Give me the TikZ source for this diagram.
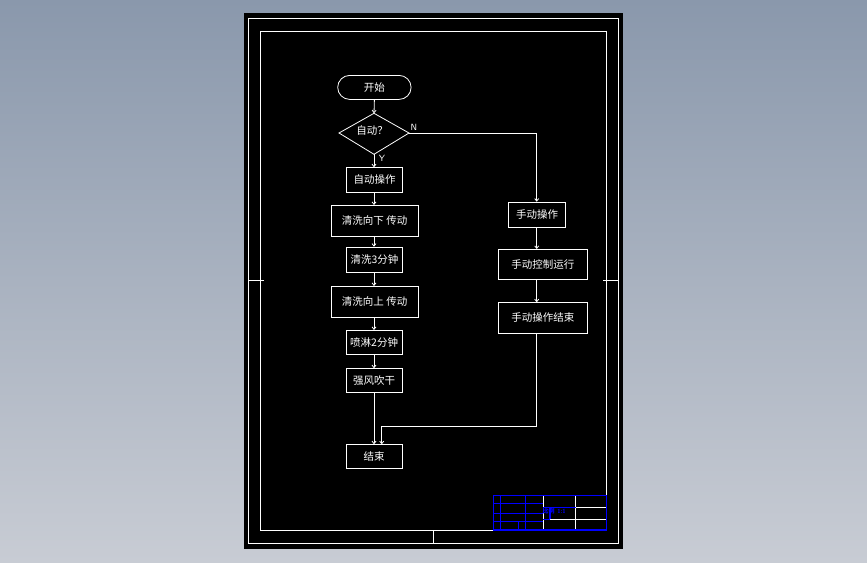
\documentclass[tikz,border=0pt]{standalone}
\usepackage{fontspec}
\newfontfamily\cjk{Noto Sans CJK SC}
\usetikzlibrary{arrows.meta}
\begin{document}
\begin{tikzpicture}[x=1pt,y=-1pt,
  wl/.style={draw=white,line width=0.8pt},
  bl/.style={draw=blue,line width=1.1pt},
  box/.style={draw=white,line width=0.8pt,fill=black,text=white,font=\cjk\fontsize{10.5}{12}\selectfont,inner sep=0pt,anchor=north west},
  arr/.style={draw=white,line width=0.8pt,-{Straight Barb[length=2.5pt,width=4pt]}},
  lbl/.style={text=white,font=\sffamily\fontsize{9}{10}\selectfont,inner sep=0pt},
  tb/.style={text=blue,font=\cjk\bfseries\fontsize{6}{6}\selectfont,inner sep=0pt}]
\useasboundingbox (0,0) rectangle (867,562);
\shade[top color={rgb,255:red,138;green,152;blue,172},bottom color={rgb,255:red,200;green,204;blue,212}] (0,0) rectangle (867,562);
\fill[black] (244,13) rectangle (623,549);
% frames
\draw[wl] (248,18) rectangle (618,543);
\draw[wl] (260,31) rectangle (606,530);
\draw[wl] (248,280) -- (264,280);
\draw[wl] (603,280) -- (618,280);
\draw[wl] (433,530) -- (433,543);
% title block
\draw[wl] (543.3,495.7) -- (543.3,530);
\draw[wl] (575.7,495.7) -- (575.7,530);
\draw[wl] (575.7,507.3) -- (606.7,507.3);
\draw[wl] (550,519.3) -- (606.7,519.3);
\draw[bl] (493.3,495.7) rectangle (606.7,530);
\draw[bl] (500.7,495.7) -- (500.7,530);
\draw[bl] (525.7,495.7) -- (525.7,530);
\draw[bl] (518.3,521.7) -- (518.3,530);
\draw[bl] (493.3,503.3) -- (543.3,503.3);
\draw[bl] (493.3,513.3) -- (543.3,513.3);
\draw[bl] (493.3,521.7) -- (543.3,521.7);
\draw[bl] (543.3,507.3) -- (575.7,507.3);
\draw[bl] (550,507.3) -- (550,519.3);
\draw[bl] (543.3,519.3) -- (550,519.3);
\node[tb] (tbl) at (548.5,511.5) {比例};
\node[tb,font=\sffamily\bfseries\fontsize{6}{6}\selectfont] (scale) at (561.5,511.5) {1:1};
% flowchart
\node[box,rounded corners=12pt,minimum width=73.4pt,minimum height=24pt] (start) at (337.3,75) {开始};
\coordinate (dtop) at (374,113.3);
\coordinate (dright) at (409,133);
\coordinate (dbot) at (374,154.3);
\coordinate (dleft) at (339,133);
\draw[wl] (dtop) -- (dright) -- (dbot) -- (dleft) -- cycle;
\node[text=white,font=\cjk\fontsize{10.5}{12}\selectfont,inner sep=0pt] (dec) at (372,131) {自动？};
\node[lbl] (nlbl) at (414,127) {N};
\node[lbl] (ylbl) at (382,158) {Y};
\node[box,minimum width=56.3pt,minimum height=24.4pt] (a1) at (346,167.3) {自动操作};
\node[box,minimum width=87pt,minimum height=30.7pt] (a2) at (330.7,205) {清洗向下 传动};
\node[box,minimum width=56.3pt,minimum height=25.6pt] (a3) at (346,246.7) {清洗3分钟};
\node[box,minimum width=87pt,minimum height=30.7pt] (a4) at (330.7,286) {清洗向上 传动};
\node[box,minimum width=56pt,minimum height=24.3pt] (a5) at (345.7,330) {喷淋2分钟};
\node[box,minimum width=56pt,minimum height=24pt] (a6) at (345.7,368.3) {强风吹干};
\node[box,minimum width=56pt,minimum height=24pt] (endn) at (345.7,444.3) {结束};
\node[box,minimum width=56.7pt,minimum height=25pt] (m1) at (508.3,201.7) {手动操作};
\node[box,minimum width=88.4pt,minimum height=30.3pt] (m2) at (498.3,249) {手动控制运行};
\node[box,minimum width=88.4pt,minimum height=30.4pt] (m3) at (498.3,302.3) {手动操作结束};
\coordinate (rx) at (536.7,0);
\draw[arr] (start.south) -- (dtop);
\draw[arr] (dbot) -- (dbot |- a1.north);
\draw[arr] (dright) -| (rx |- m1.north);
\draw[arr] (a1.south -| dbot) -- (a2.north -| dbot);
\draw[arr] (a2.south -| dbot) -- (a3.north -| dbot);
\draw[arr] (a3.south -| dbot) -- (a4.north -| dbot);
\draw[arr] (a4.south -| dbot) -- (a5.north -| dbot);
\draw[arr] (a5.south -| dbot) -- (a6.north -| dbot);
\draw[arr] (a6.south -| dbot) -- (endn.north -| dbot);
\draw[arr] (rx |- m1.south) -- (rx |- m2.north);
\draw[arr] (rx |- m2.south) -- (rx |- m3.north);
\coordinate (jr) at (536.7,426.7);
\coordinate (jl) at (381.7,426.7);
\draw[arr] (rx |- m3.south) -- (jr) -- (jl) -- (jl |- endn.north);
\end{tikzpicture}
\end{document}
